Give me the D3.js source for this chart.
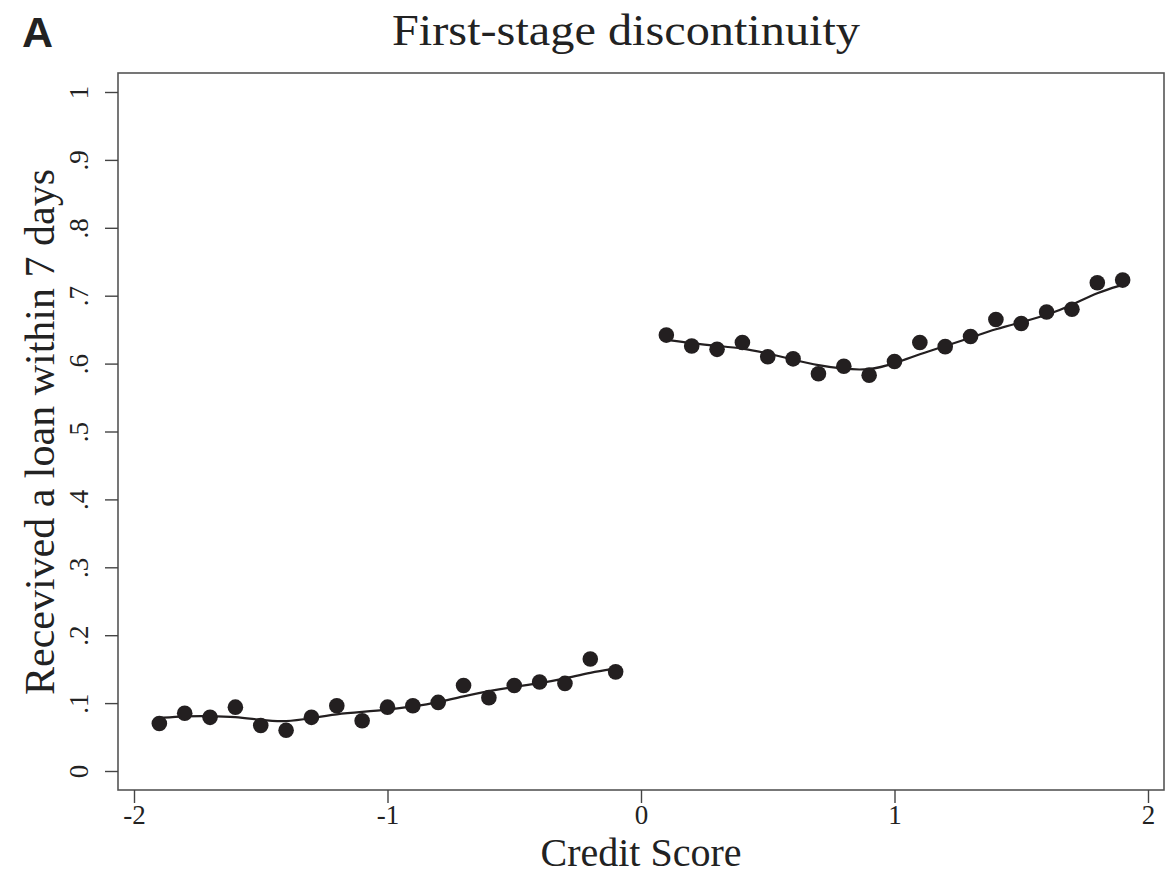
<!DOCTYPE html>
<html>
<head>
<meta charset="utf-8">
<script src="https://cdn.jsdelivr.net/npm/d3@7"></script>
<style>
  body { margin: 0; background: #fff; }
  text { font-family: "Liberation Serif", "Times New Roman", serif; fill: #222; }
</style>
</head>
<body>
<div id="chart"></div>
<script>
// binned means, left and right of the cutoff
const leftX = [-1.9, -1.8, -1.7, -1.6, -1.5, -1.4, -1.3, -1.2, -1.1, -1.0,
  -0.9, -0.8, -0.7, -0.6, -0.5, -0.4, -0.3, -0.2, -0.1];
const leftY = [0.070, 0.085, 0.079, 0.094, 0.067, 0.060, 0.079, 0.096, 0.074, 0.094,
  0.096, 0.101, 0.126, 0.108, 0.126, 0.131, 0.129, 0.165, 0.146];
const leftFit = [0.078, 0.081, 0.081, 0.080, 0.075, 0.072, 0.078, 0.084, 0.087, 0.090,
  0.095, 0.101, 0.110, 0.118, 0.124, 0.129, 0.136, 0.145, 0.151];

const rightX = [0.1, 0.2, 0.3, 0.4, 0.5, 0.6, 0.7, 0.8, 0.9, 1.0,
  1.1, 1.2, 1.3, 1.4, 1.5, 1.6, 1.7, 1.8, 1.9];
const rightY = [0.642, 0.626, 0.621, 0.631, 0.610, 0.607, 0.585, 0.596, 0.583, 0.603,
  0.631, 0.625, 0.640, 0.665, 0.659, 0.676, 0.680, 0.719, 0.723];
const rightFit = [0.635, 0.630, 0.626, 0.623, 0.615, 0.606, 0.597, 0.592, 0.590, 0.600,
  0.614, 0.626, 0.638, 0.651, 0.661, 0.671, 0.686, 0.705, 0.716];

const xTicks = [-2, -1, 0, 1, 2];
const xTickLabels = ['-2', '-1', '0', '1', '2'];
const yTicks = [0, 0.1, 0.2, 0.3, 0.4, 0.5, 0.6, 0.7, 0.8, 0.9, 1];
const yTickLabels = ['0', '.1', '.2', '.3', '.4', '.5', '.6', '.7', '.8', '.9', '1'];

const width = 1176, height = 875;
const frame = { left: 118, right: 1164, top: 73, bottom: 790 };

const svg = d3.select('#chart').append('svg')
  .attr('width', width)
  .attr('height', height);

const x = d3.scaleLinear().domain([-2, 2]).range([134, 1148]);
const y = d3.scaleLinear().domain([0, 1]).range([771, 92]);

// plot box
svg.append('rect')
  .attr('x', frame.left)
  .attr('y', frame.top)
  .attr('width', frame.right - frame.left)
  .attr('height', frame.bottom - frame.top)
  .attr('fill', 'none')
  .attr('stroke', '#555')
  .attr('stroke-width', 1.6);

// y axis
const yAxis = svg.append('g')
  .attr('transform', `translate(${frame.left},0)`)
  .call(d3.axisLeft(y).tickValues(yTicks).tickSize(13)
    .tickFormat((d, i) => yTickLabels[i]));
yAxis.select('.domain').remove();
yAxis.selectAll('.tick line').attr('stroke', '#444').attr('stroke-width', 1.4);
yAxis.selectAll('.tick text')
  .attr('x', 0).attr('y', 0).attr('dy', 0)
  .attr('text-anchor', 'middle')
  .attr('transform', 'translate(-30,0) rotate(-90)')
  .style('font-size', '27px')
  .style('font-family', '"Liberation Serif", serif')
  .attr('fill', '#222');

// x axis
const xAxis = svg.append('g')
  .attr('transform', `translate(0,${frame.bottom})`)
  .call(d3.axisBottom(x).tickValues(xTicks).tickSize(13)
    .tickFormat((d, i) => xTickLabels[i]));
xAxis.select('.domain').remove();
xAxis.selectAll('.tick line').attr('stroke', '#444').attr('stroke-width', 1.4);
xAxis.selectAll('.tick text')
  .attr('y', 34).attr('dy', 0)
  .style('font-size', '27px')
  .style('font-family', '"Liberation Serif", serif')
  .attr('fill', '#222');

// fitted lines
const line = d3.line()
  .x(d => x(d[0]))
  .y(d => y(d[1]))
  .curve(d3.curveBasis);

[[leftX, leftFit], [rightX, rightFit]].forEach(([xs, ys]) => {
  svg.append('path')
    .datum(xs.map((v, i) => [v, ys[i]]))
    .attr('d', line)
    .attr('fill', 'none')
    .attr('stroke', '#231f20')
    .attr('stroke-width', 2.2);
});

// binned points
const pts = leftX.map((v, i) => [v, leftY[i]]).concat(rightX.map((v, i) => [v, rightY[i]]));
svg.selectAll('circle.pt')
  .data(pts)
  .enter()
  .append('circle')
  .attr('class', 'pt')
  .attr('cx', d => x(d[0]))
  .attr('cy', d => y(d[1]))
  .attr('r', 7.8)
  .attr('fill', '#231f20');

// titles
svg.append('text')
  .attr('x', 626)
  .attr('y', 45)
  .attr('text-anchor', 'middle')
  .attr('textLength', 468)
  .attr('lengthAdjust', 'spacingAndGlyphs')
  .style('font-size', '45px')
  .text('First-stage discontinuity');

svg.append('text')
  .attr('x', 22)
  .attr('y', 47)
  .style('font-family', '"Liberation Sans", Arial, sans-serif')
  .style('font-weight', 'bold')
  .style('font-size', '43px')
  .attr('fill', '#1a1a1a')
  .text('A');

svg.append('text')
  .attr('x', 641)
  .attr('y', 866)
  .attr('text-anchor', 'middle')
  .style('font-size', '40px')
  .text('Credit Score');

svg.append('text')
  .attr('transform', 'translate(54,432) rotate(-90)')
  .attr('text-anchor', 'middle')
  .style('font-size', '42px')
  .text('Recevived a loan within 7 days');
</script>
</body>
</html>
